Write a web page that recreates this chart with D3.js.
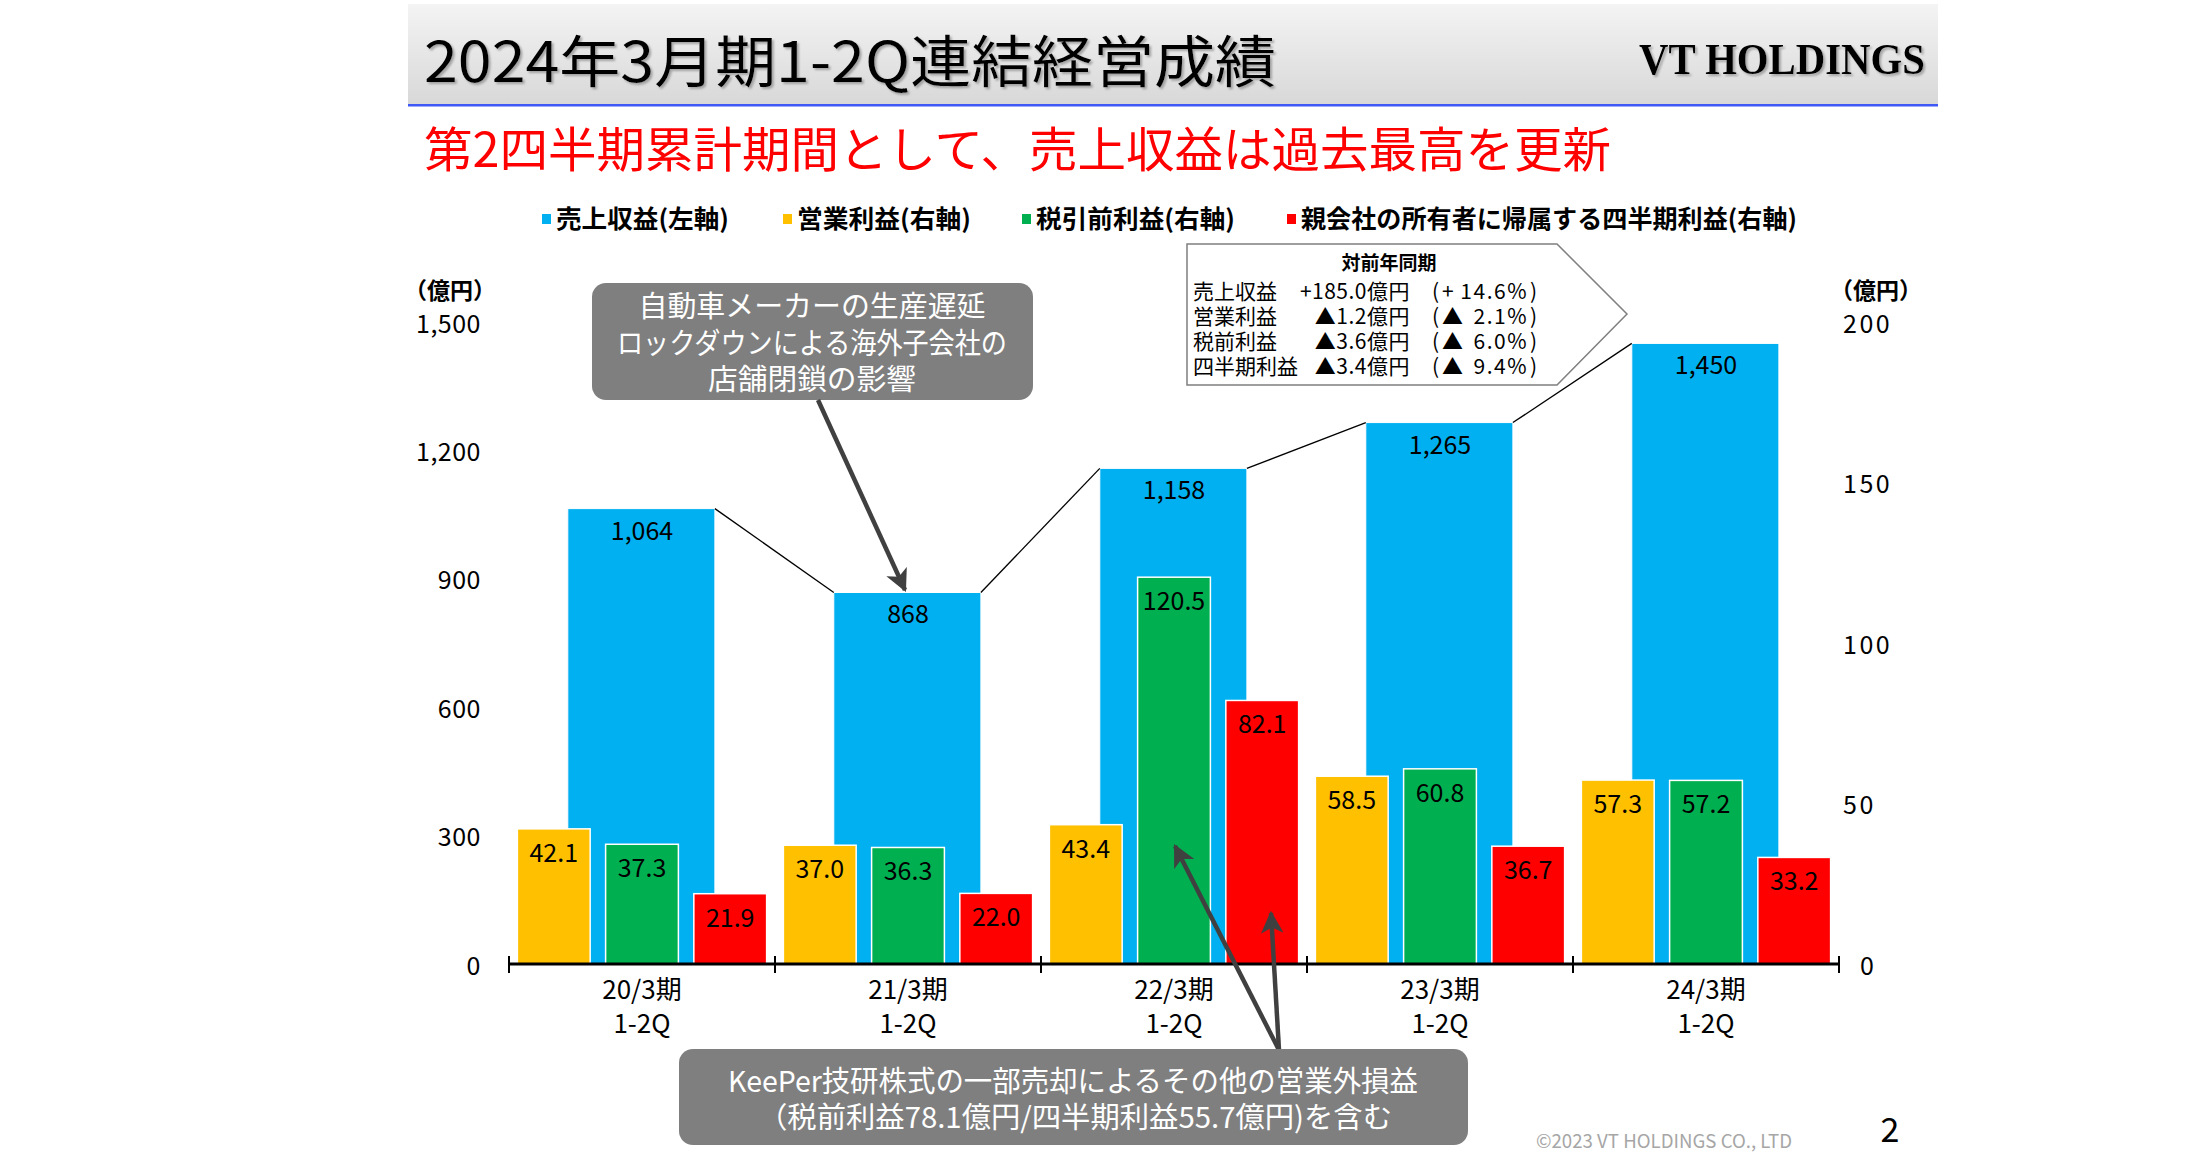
<!DOCTYPE html>
<html><head><meta charset="utf-8">
<script src="https://cdn.jsdelivr.net/npm/d3@7"></script>
<style>
html,body{margin:0;padding:0;background:#fff;}
svg{display:block;}
text{font-family:"Noto Sans CJK JP","Noto Sans",sans-serif;}
</style></head>
<body>
<script>
// ---- data ----
const categories = ["20/3期", "21/3期", "22/3期", "23/3期", "24/3期"];
const categorySub = ["1-2Q", "1-2Q", "1-2Q", "1-2Q", "1-2Q"];
const revenue = [1064, 868, 1158, 1265, 1450];
const operatingProfit = [42.1, 37.0, 43.4, 58.5, 57.3];
const pretaxProfit = [37.3, 36.3, 120.5, 60.8, 57.2];
const netProfit = [21.9, 22.0, 82.1, 36.7, 33.2];
const leftTicks = [0, 300, 600, 900, 1200, 1500];
const rightTicks = [0, 50, 100, 150, 200];
const seriesNames = ["売上収益(左軸)", "営業利益(右軸)", "税引前利益(右軸)", "親会社の所有者に帰属する四半期利益(右軸)"];
const seriesColors = ["#00b0f0", "#ffc000", "#00b050", "#ff0000"];
const titleText = "2024年3月期1-2Q連結経営成績";
const subtitleText = "第2四半期累計期間として、売上収益は過去最高を更新";
const note1 = ["自動車メーカーの生産遅延", "ロックダウンによる海外子会社の", "店舗閉鎖の影響"];
const note2 = ["KeePer技研株式の一部売却によるその他の営業外損益", "（税前利益78.1億円/四半期利益55.7億円)を含む"];
const yoyTitle = "対前年同期";
const yoyLabels = ["売上収益", "営業利益", "税前利益", "四半期利益"];
const yoyValues = ["+185.0億円", "▲1.2億円", "▲3.6億円", "▲3.4億円"];
const yoySigns = ["+", "▲", "▲", "▲"];
const yoyPct = ["14.6%", "2.1%", "6.0%", "9.4%"];

const W = 2200, H = 1152;
const svg = d3.select("body").append("svg").attr("width", W).attr("height", H);
const defs = svg.append("defs");

// header gradient
const grad = defs.append("linearGradient").attr("id", "hdr").attr("x1", 0).attr("y1", 0).attr("x2", 0).attr("y2", 1);
grad.append("stop").attr("offset", "0%").attr("stop-color", "#f4f4f4");
grad.append("stop").attr("offset", "100%").attr("stop-color", "#d8d8d8");
const shadow = defs.append("filter").attr("id", "shd").attr("x", "-5%").attr("y", "-20%").attr("width", "110%").attr("height", "150%");
shadow.append("feDropShadow").attr("dx", 2).attr("dy", 2).attr("stdDeviation", 1).attr("flood-color", "#888").attr("flood-opacity", 0.7);
const mk = defs.append("marker").attr("id", "arr").attr("viewBox", "0 0 10 10").attr("refX", 9).attr("refY", 5)
  .attr("markerWidth", 5).attr("markerHeight", 5).attr("orient", "auto").attr("markerUnits", "strokeWidth");
mk.append("path").attr("d", "M0,0 L10,5 L0,10 L2.5,5 Z").attr("fill", "#404040");

// header
svg.append("rect").attr("x", 408).attr("y", 4).attr("width", 1530).attr("height", 100).attr("fill", "url(#hdr)");
svg.append("rect").attr("x", 408).attr("y", 104).attr("width", 1530).attr("height", 2.5).attr("fill", "#3f58f5");
svg.append("text").attr("x", 424).attr("y", 82).attr("font-size", 56).attr("fill", "#000")
  .attr("textLength", 852).attr("lengthAdjust", "spacingAndGlyphs").attr("filter", "url(#shd)").text(titleText);
svg.append("text").attr("x", 1639).attr("y", 74).attr("font-size", 44).attr("font-weight", "bold")
  .style("font-family", "'Liberation Serif','Times New Roman',serif").attr("fill", "#000")
  .attr("textLength", 286).attr("lengthAdjust", "spacingAndGlyphs").attr("filter", "url(#shd)").text("VT HOLDINGS");
svg.append("text").attr("x", 424).attr("y", 167).attr("font-size", 48).attr("fill", "#ff0000")
  .attr("textLength", 1187).attr("lengthAdjust", "spacingAndGlyphs").text(subtitleText);

// legend
const legendX = [542, 783, 1022, 1287];
const legendW = [173, 174, 199, 496];
seriesNames.forEach((n, i) => {
  svg.append("rect").attr("x", legendX[i]).attr("y", 214).attr("width", 9).attr("height", 10).attr("fill", seriesColors[i]);
  svg.append("text").attr("x", legendX[i] + 14).attr("y", 228).attr("font-size", 25).attr("font-weight", "bold")
    .attr("textLength", legendW[i]).attr("lengthAdjust", "spacingAndGlyphs").text(n);
});

// scales
const plotTop = 322, plotBottom = 964;
const x0 = d3.scaleBand().domain(categories).range([509, 1839]).padding(0);
const x1 = d3.scaleBand().domain(["op", "pre", "net"]).range([0, x0.bandwidth()]).paddingInner(0.175).paddingOuter(0.095);
const yL = d3.scaleLinear().domain([0, 1500]).range([plotBottom, plotTop]);
const yR = d3.scaleLinear().domain([0, 200]).range([plotBottom, plotTop]);

// axes labels
svg.append("text").attr("x", 450).attr("y", 299).attr("text-anchor", "middle").attr("font-size", 23).attr("font-weight", "bold").text("（億円）");
svg.append("text").attr("x", 1876).attr("y", 299).attr("text-anchor", "middle").attr("font-size", 23).attr("font-weight", "bold").text("（億円）");

const gL = svg.append("g").attr("transform", "translate(481,0)")
  .call(d3.axisLeft(yL).tickValues(leftTicks).tickFormat(d3.format(",")).tickSize(0).tickPadding(0));
gL.select(".domain").remove();
gL.selectAll("text").attr("font-size", 25).style("font-family", "'Noto Sans CJK JP','Noto Sans',sans-serif").attr("fill", "#000").attr("letter-spacing", 0.5).attr("dy", "0.4em");

const gR = svg.append("g").attr("transform", "translate(1843,0)")
  .call(d3.axisRight(yR).tickValues(rightTicks).tickFormat(d3.format(",")).tickSize(0).tickPadding(0));
gR.select(".domain").remove();
gR.selectAll("text").attr("font-size", 25).style("font-family", "'Noto Sans CJK JP','Noto Sans',sans-serif").attr("fill", "#000").attr("letter-spacing", 2.5).attr("dy", "0.4em");
gR.selectAll(".tick").filter(d => d === 0).select("text").attr("dx", 17);

// revenue bars
const blueOff = 0.221, blueW = 0.553;
svg.append("g").selectAll("rect").data(revenue).join("rect")
  .attr("x", (d, i) => x0(categories[i]) + x0.bandwidth() * blueOff)
  .attr("y", d => yL(d)).attr("width", x0.bandwidth() * blueW).attr("height", d => yL(0) - yL(d))
  .attr("fill", seriesColors[0]).attr("stroke", "#fff").attr("stroke-width", 1);

// connector lines
const conn = [];
for (let i = 0; i < revenue.length - 1; i++) {
  conn.push({
    x1: x0(categories[i]) + x0.bandwidth() * (blueOff + blueW), y1: yL(revenue[i]),
    x2: x0(categories[i + 1]) + x0.bandwidth() * blueOff, y2: yL(revenue[i + 1])
  });
}
svg.append("g").selectAll("line").data(conn).join("line")
  .attr("x1", d => d.x1).attr("y1", d => d.y1).attr("x2", d => d.x2).attr("y2", d => d.y2)
  .attr("stroke", "#000").attr("stroke-width", 1.3);

svg.append("g").selectAll("text").data(revenue).join("text")
  .attr("x", (d, i) => x0(categories[i]) + x0.bandwidth() / 2)
  .attr("y", d => yL(d) + 31).attr("text-anchor", "middle").attr("font-size", 25)
  .text(d => d3.format(",")(d));

// profit bars
const profitSeries = [
  { key: "op", vals: operatingProfit, color: seriesColors[1] },
  { key: "pre", vals: pretaxProfit, color: seriesColors[2] },
  { key: "net", vals: netProfit, color: seriesColors[3] }
];
profitSeries.forEach(s => {
  const g = svg.append("g");
  g.selectAll("rect").data(s.vals).join("rect")
    .attr("x", (d, i) => x0(categories[i]) + x1(s.key))
    .attr("y", d => yR(d)).attr("width", x1.bandwidth()).attr("height", d => yR(0) - yR(d))
    .attr("fill", s.color).attr("stroke", "#fff").attr("stroke-width", 1.5);
  g.selectAll("text").data(s.vals).join("text")
    .attr("x", (d, i) => x0(categories[i]) + x1(s.key) + x1.bandwidth() / 2)
    .attr("y", d => yR(d) + 33).attr("text-anchor", "middle").attr("font-size", 25)
    .text(d => d3.format(".1f")(d));
});

// x axis
svg.append("line").attr("x1", x0.range()[0]).attr("x2", x0.range()[1]).attr("y1", yL(0)).attr("y2", yL(0))
  .attr("stroke", "#000").attr("stroke-width", 3);
const bounds = categories.map(c => x0(c)).concat([x0.range()[1]]);
svg.append("g").selectAll("line").data(bounds).join("line")
  .attr("x1", d => d).attr("x2", d => d).attr("y1", yL(0) - 8).attr("y2", yL(0) + 9)
  .attr("stroke", "#000").attr("stroke-width", 2);
svg.append("g").selectAll("text").data(categories).join("text")
  .attr("x", d => x0(d) + x0.bandwidth() / 2).attr("y", 999).attr("text-anchor", "middle").attr("font-size", 26)
  .text(d => d);
svg.append("g").selectAll("text").data(categorySub).join("text")
  .attr("x", (d, i) => x0(categories[i]) + x0.bandwidth() / 2).attr("y", 1033).attr("text-anchor", "middle").attr("font-size", 26)
  .text(d => d);

// YoY callout
svg.append("path").attr("d", "M1187,244 L1557,244 L1627,314 L1557,385 L1187,385 Z")
  .attr("fill", "#fff").attr("stroke", "#7f7f7f").attr("stroke-width", 1.5);
svg.append("text").attr("x", 1389).attr("y", 270).attr("text-anchor", "middle").attr("font-size", 19).attr("font-weight", "bold").text(yoyTitle);
yoyLabels.forEach((l, i) => {
  const yy = 299 + i * 25;
  svg.append("text").attr("x", 1193).attr("y", yy).attr("font-size", 21).text(l);
  svg.append("text").attr("x", 1410).attr("y", yy).attr("text-anchor", "end").attr("font-size", 21).attr("letter-spacing", 0.5).text(yoyValues[i]);
  svg.append("text").attr("x", 1432).attr("y", yy).attr("font-size", 21).text("(");
  svg.append("text").attr("x", 1442).attr("y", yy).attr("font-size", 21).text(yoySigns[i]);
  svg.append("text").attr("x", 1528).attr("y", yy).attr("text-anchor", "end").attr("font-size", 21).attr("letter-spacing", 1.5).text(yoyPct[i]);
  svg.append("text").attr("x", 1530).attr("y", yy).attr("font-size", 21).text(")");
});

// note 1
svg.append("rect").attr("x", 592).attr("y", 283).attr("width", 441).attr("height", 117).attr("rx", 14)
  .attr("fill", "#7f7f7f");
const n1w = [347, 390, 208];
note1.forEach((t, i) => {
  svg.append("text").attr("x", 812 - n1w[i] / 2).attr("y", 317 + i * 36.5).attr("font-size", 29).attr("fill", "#fff")
    .attr("textLength", n1w[i]).attr("lengthAdjust", "spacingAndGlyphs").text(t);
});
svg.append("line").attr("x1", 818).attr("y1", 400).attr("x2", 905).attr("y2", 590)
  .attr("stroke", "#404040").attr("stroke-width", 4.5).attr("marker-end", "url(#arr)");

// note 2
svg.append("line").attr("x1", 1279).attr("y1", 1050).attr("x2", 1175).attr("y2", 846)
  .attr("stroke", "#404040").attr("stroke-width", 4.5).attr("marker-end", "url(#arr)");
svg.append("line").attr("x1", 1279).attr("y1", 1050).attr("x2", 1271).attr("y2", 913)
  .attr("stroke", "#404040").attr("stroke-width", 4.5).attr("marker-end", "url(#arr)");
svg.append("rect").attr("x", 679).attr("y", 1049).attr("width", 789).attr("height", 96).attr("rx", 14)
  .attr("fill", "#7f7f7f");
const n2x = [728, 758], n2w = [690, 634];
note2.forEach((t, i) => {
  svg.append("text").attr("x", n2x[i]).attr("y", 1092 + i * 36).attr("font-size", 29).attr("fill", "#fff")
    .attr("textLength", n2w[i]).attr("lengthAdjust", "spacingAndGlyphs").text(t);
});

// footer
svg.append("text").attr("x", 1536).attr("y", 1148).attr("font-size", 19).attr("fill", "#a6a6a6")
  .attr("textLength", 256).attr("lengthAdjust", "spacingAndGlyphs").text("©2023 VT HOLDINGS CO., LTD");
svg.append("text").attr("x", 1890).attr("y", 1142).attr("text-anchor", "middle").attr("font-size", 34).text("2");
</script>
</body></html>
